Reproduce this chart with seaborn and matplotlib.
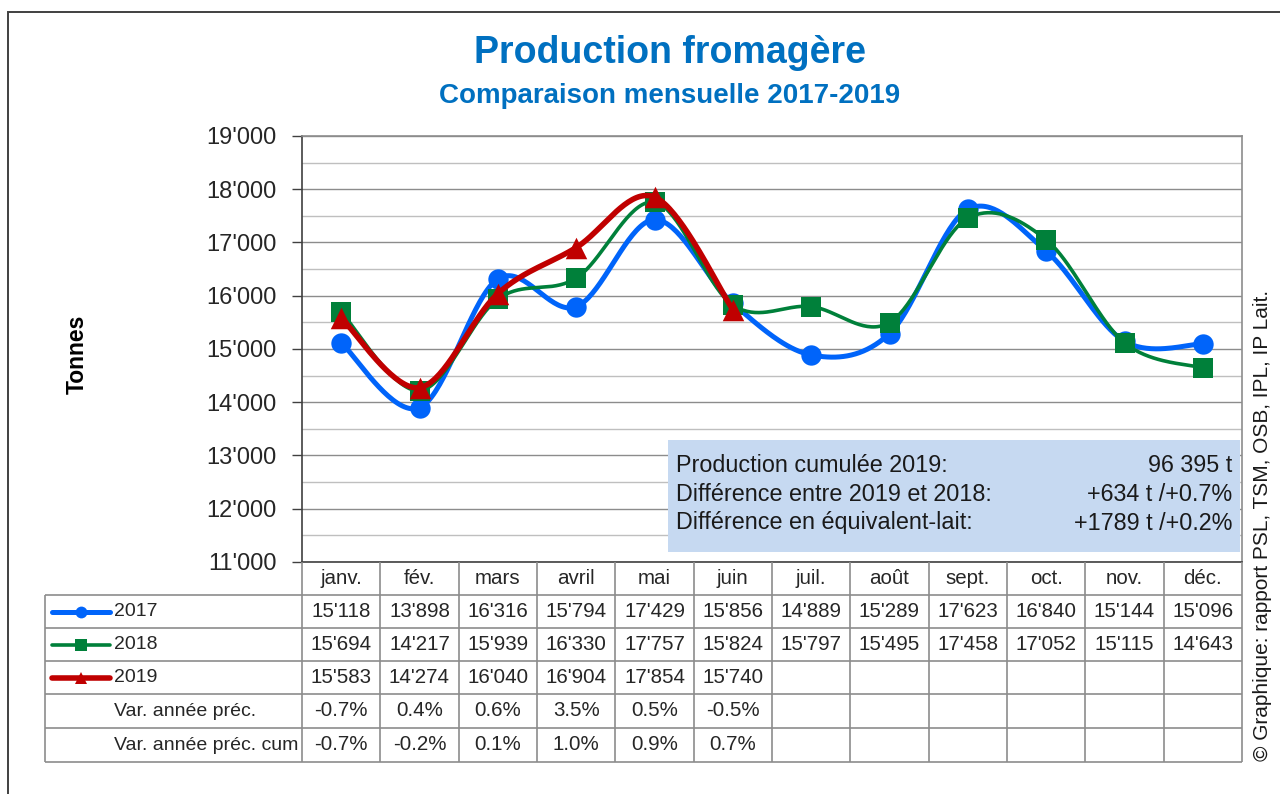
import numpy as np
import pandas as pd
import matplotlib
matplotlib.use("Agg")
import matplotlib.pyplot as plt
import matplotlib.ticker as mticker
from matplotlib.patches import Rectangle
from matplotlib import font_manager
import seaborn as sns

# ── Data ──────────────────────────────────────────────────────────────────
months = ["janv.", "fév.", "mars", "avril", "mai", "juin",
          "juil.", "août", "sept.", "oct.", "nov.", "déc."]
prod_2017 = [15118, 13898, 16316, 15794, 17429, 15856, 14889, 15289, 17623, 16840, 15144, 15096]
prod_2018 = [15694, 14217, 15939, 16330, 17757, 15824, 15797, 15495, 17458, 17052, 15115, 14643]
prod_2019 = [15583, 14274, 16040, 16904, 17854, 15740]
var_prev = [-0.7, 0.4, 0.6, 3.5, 0.5, -0.5]
var_prev_cum = [-0.7, -0.2, 0.1, 1.0, 0.9, 0.7]
info_labels = ["Production cumulée 2019:",
               "Différence entre 2019 et 2018:",
               "Différence en équivalent-lait:"]
info_values = ["96 395 t", "+634 t /+0.7%", "+1789 t /+0.2%"]

# ── Style ─────────────────────────────────────────────────────────────────
sns.set_style("white")
plt.rcParams["font.family"] = ["Liberation Sans", "DejaVu Sans"]

BLUE = "#0064FA"
GREEN = "#00803A"
RED = "#C00000"
TITLE = "#0070C0"
LINE = "#8C8C8C"

names = {f.name for f in font_manager.fontManager.ttflist}
if "Liberation Sans Narrow" in names:
    TAB_FONT, TAB_SIZE, NAME_SIZE = ["Liberation Sans Narrow", "Liberation Sans"], 16, 16
else:
    TAB_FONT, TAB_SIZE, NAME_SIZE = ["Liberation Sans"], 14.8, 14

W, H = 1280, 794


def smooth(values, n=40):
    # Excel-like smoothed line (Bezier through the points)
    p = np.column_stack([np.arange(len(values), dtype=float), np.asarray(values, float)])
    out = []
    for i in range(len(p) - 1):
        p0, p1, p2 = p[max(i - 1, 0)], p[i], p[i + 1]
        p3 = p[min(i + 2, len(p) - 1)]
        c1 = p1 + (p2 - p0) / 6
        c2 = p2 - (p3 - p1) / 6
        t = np.linspace(0, 1, n)[:, None]
        seg = (1 - t) ** 3 * p1 + 3 * (1 - t) ** 2 * t * c1 + 3 * (1 - t) * t ** 2 * c2 + t ** 3 * p2
        out.append(seg if i == 0 else seg[1:])
    return np.vstack(out)


fig = plt.figure(figsize=(W / 100, H / 100), dpi=100)

# plot area in pixel box 302..1242 x 136..562
ax = fig.add_axes([302 / W, 1 - 562 / H, 940 / W, 426 / H])

series = [
    ("2017", prod_2017, BLUE, "o", 215, 3.6, 3),
    ("2018", prod_2018, GREEN, "s", 215, 2.6, 4),
    ("2019", prod_2019, RED, "^", 240, 4.0, 5),
]
for name, vals, col, mk, size, lw, z in series:
    curve = smooth(vals)
    sns.lineplot(x=curve[:, 0], y=curve[:, 1], ax=ax, color=col, linewidth=lw,
                 sort=False, estimator=None, zorder=z)
    sns.scatterplot(x=np.arange(len(vals)), y=vals, ax=ax, color=col, marker=mk,
                    s=size, linewidth=0, zorder=z + 0.5)

ax.set_xlim(-0.5, 11.5)
ax.set_ylim(11000, 19000)
ax.set_xticks([])
ax.yaxis.set_major_locator(mticker.MultipleLocator(1000))
ax.yaxis.set_minor_locator(mticker.MultipleLocator(500))
ax.yaxis.set_major_formatter(mticker.FuncFormatter(lambda v, p: f"{int(v):,}".replace(",", "'")))
ax.grid(which="major", axis="y", color="#8C8C8C", linewidth=1.0)
ax.grid(which="minor", axis="y", color="#BFBFBF", linewidth=1.0)
ax.set_axisbelow(True)
ax.tick_params(axis="y", which="major", direction="out", length=7.5, width=1, color="#404040",
               labelsize=17, pad=11, left=True)
ax.tick_params(axis="y", which="minor", length=0)
ax.set_xlabel("")
ax.set_ylabel("")
for side in ["top", "right"]:
    ax.spines[side].set_color(LINE)
    ax.spines[side].set_linewidth(1.2)
for side in ["left", "bottom"]:
    ax.spines[side].set_color("#404040")
    ax.spines[side].set_linewidth(1.2)

# ── Overlay in pixel coordinates: table, info box, frame, texts ───────────
ov = fig.add_axes([0, 0, 1, 1], zorder=5)
ov.set_xlim(0, W)
ov.set_ylim(H, 0)
ov.axis("off")
ov.patch.set_alpha(0)

# outer frame
ov.plot([8, 8, W], [H, 12, 12], color="#404040", linewidth=1.4, solid_joinstyle="miter")

# info box
ov.add_patch(Rectangle((668, 440), 572, 112, facecolor="#C6D9F1", edgecolor="none"))
for i, (lab, val) in enumerate(zip(info_labels, info_values)):
    y = 466 + i * 28.5
    ov.text(676, y, lab, fontsize=16.8, va="center", ha="left", color="#1A1A1A")
    ov.text(1232, y, val, fontsize=16.8, va="center", ha="right", color="#1A1A1A")

# data table
col_x = np.linspace(302, 1242, 13)
row_y = [562, 595, 628, 661, 694, 728, 762]
tab_left = 45
ov.vlines(col_x, 562, row_y[-1], color=LINE, linewidth=1.2)
ov.vlines(tab_left, row_y[1], row_y[-1], color=LINE, linewidth=1.2)
ov.hlines(row_y[1:], tab_left, 1242, color=LINE, linewidth=1.2)

centers = (col_x[:-1] + col_x[1:]) / 2
row_c = [(row_y[i] + row_y[i + 1]) / 2 for i in range(len(row_y) - 1)]
for cx, m in zip(centers, months):
    ov.text(cx, row_c[0], m, ha="center", va="center", fontsize=TAB_SIZE, family=TAB_FONT)

rows = [
    [f"{v:,}".replace(",", "'") for v in prod_2017],
    [f"{v:,}".replace(",", "'") for v in prod_2018],
    [f"{v:,}".replace(",", "'") for v in prod_2019],
    [f"{v:.1f}%" for v in var_prev],
    [f"{v:.1f}%" for v in var_prev_cum],
]
row_names = ["2017", "2018", "2019", "Var. année préc.", "Var. année préc. cum"]
for r, (vals, rn) in enumerate(zip(rows, row_names)):
    yc = row_c[r + 1]
    for cx, txt in zip(centers, vals):
        ov.text(cx, yc, txt, ha="center", va="center", fontsize=TAB_SIZE, family=TAB_FONT)
    ov.text(114, yc, rn, ha="left", va="center", fontsize=NAME_SIZE, family=TAB_FONT)

# legend keys in the table
for r, (name, vals, col, mk, size, lw, z) in enumerate(series):
    yc = row_c[r + 1]
    ov.plot([52, 110], [yc, yc], color=col, linewidth=lw, solid_capstyle="round")
    ov.plot([81], [yc], marker=mk, color=col, markersize=8.5, markeredgewidth=0)

# titles and side texts
fig.text(670 / W, 1 - 53 / H, "Production fromagère", ha="center", va="center",
         fontsize=27, fontweight="bold", color=TITLE)
fig.text(670 / W, 1 - 96 / H, "Comparaison mensuelle 2017-2019", ha="center", va="center",
         fontsize=20, fontweight="bold", color=TITLE)
fig.text(77 / W, 1 - 354 / H, "Tonnes", rotation=90, ha="center", va="center",
         fontsize=16.5, fontweight="bold", color="black")
fig.text(1263 / W, 1 - 525 / H, "© Graphique: rapport PSL, TSM, OSB, IPL, IP Lait.",
         rotation=90, ha="center", va="center", fontsize=15, color="#1A1A1A")

fig.savefig("out.png", dpi=100, facecolor="white")
